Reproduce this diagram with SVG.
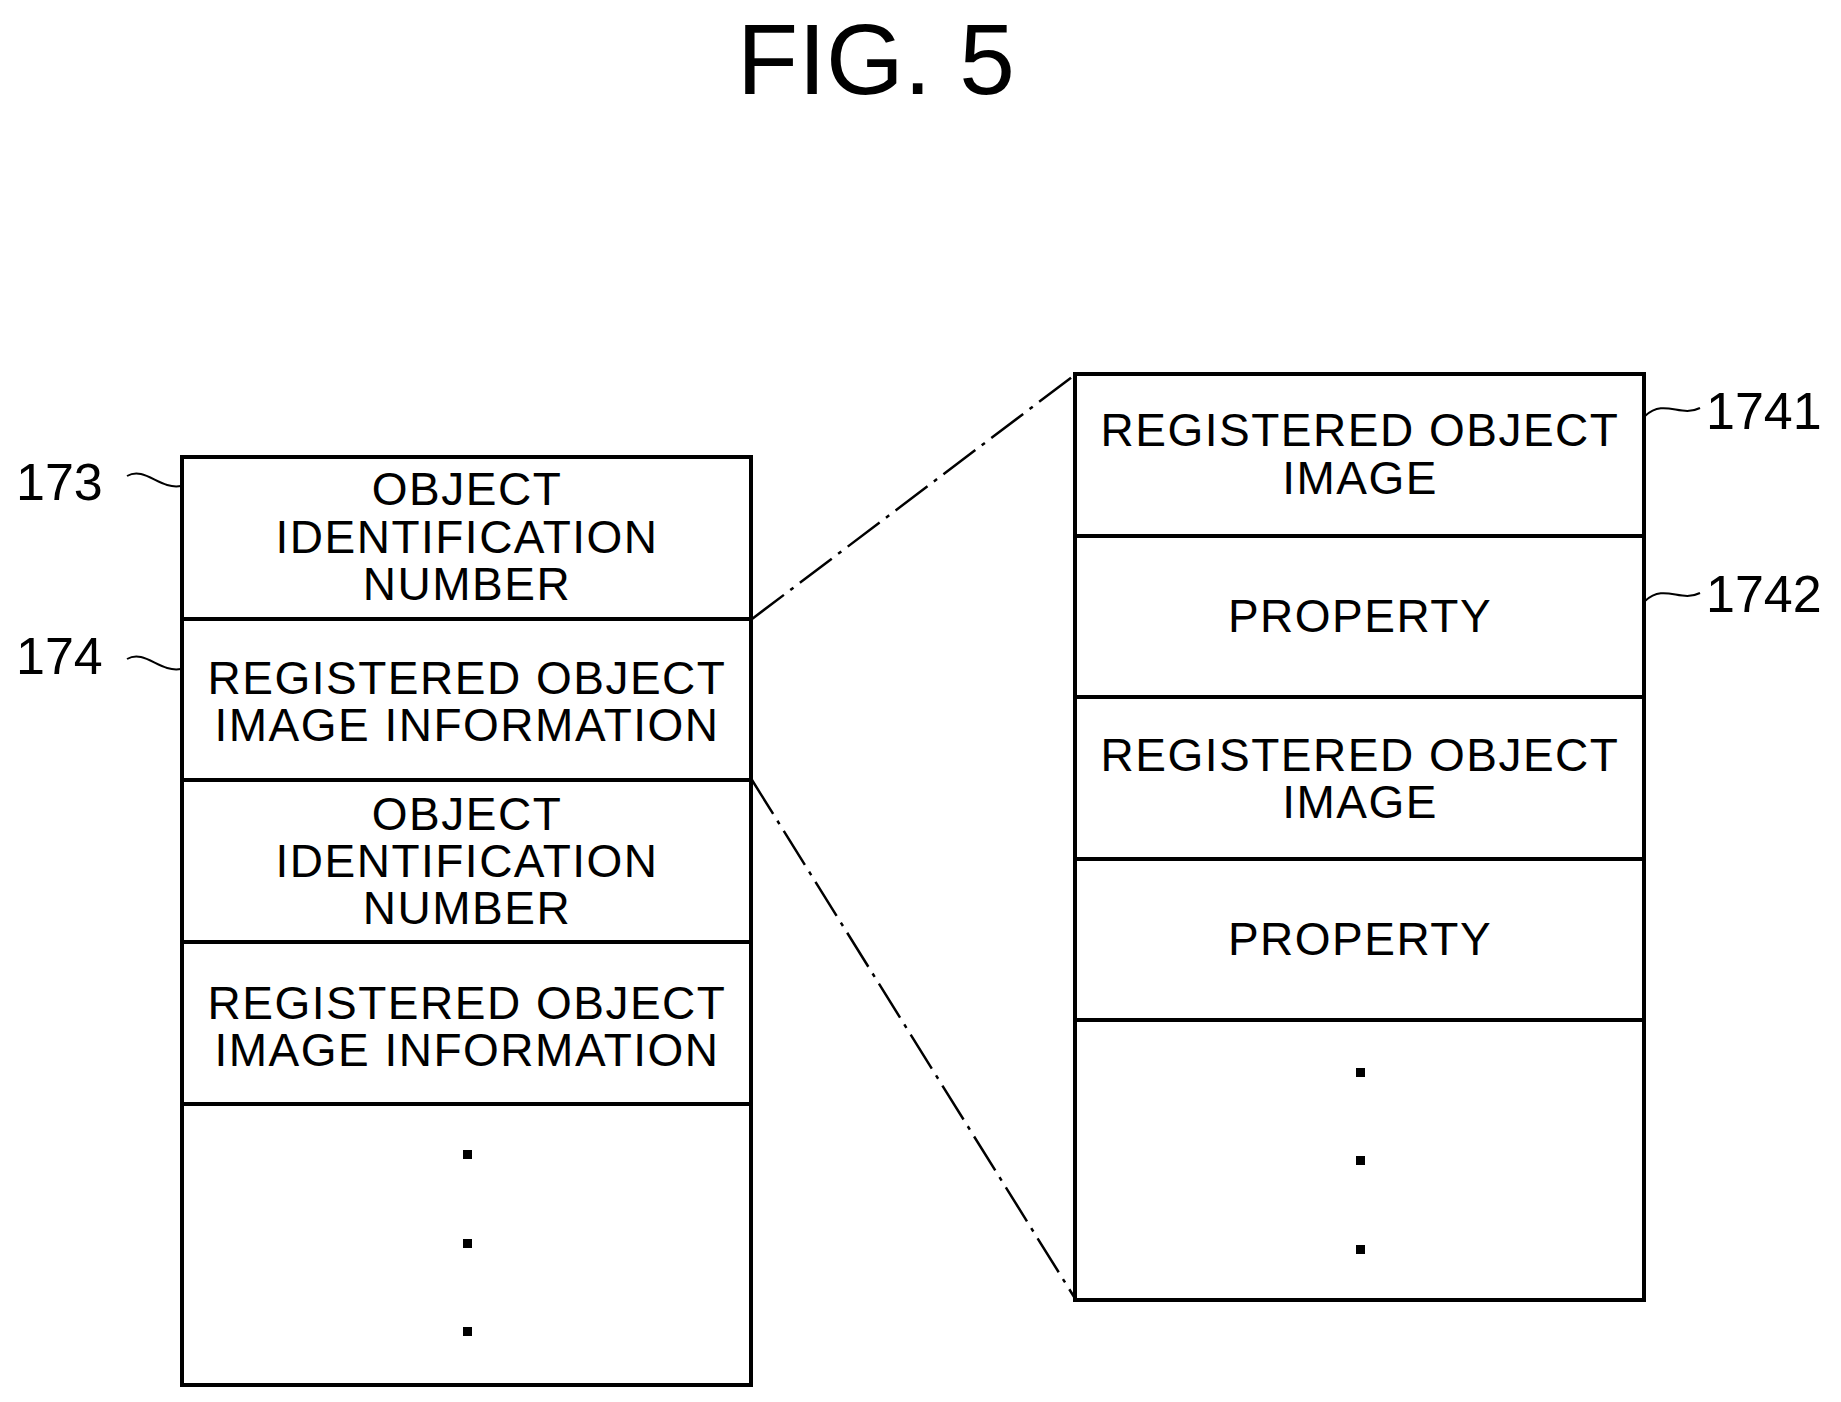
<svg xmlns="http://www.w3.org/2000/svg" width="1841" height="1402" viewBox="0 0 1841 1402">
<style>
.b{fill:#fff;stroke:#000;stroke-width:4}
.t{font-family:"Liberation Sans",Arial,sans-serif;font-size:46px;letter-spacing:1.5px;text-anchor:middle;fill:#000}
.l{font-family:"Liberation Sans",Arial,sans-serif;font-size:52px;fill:#000}
.s{fill:none;stroke:#000;stroke-width:2}
.d{fill:none;stroke:#000;stroke-width:2.5;stroke-dasharray:40 8 4 8}
</style>
<rect width="1841" height="1402" fill="#fff"/>
<text x="876" y="94" font-family="Liberation Sans,Arial,sans-serif" font-size="100" text-anchor="middle">FIG. 5</text>
<g id="connectors">
<line class="d" x1="752" y1="619" x2="1076" y2="374"/>
<line class="d" x1="752" y1="780" x2="1076" y2="1300"/>
<path class="s" d="M127,476 C145,466 160,490 181,486"/>
<path class="s" d="M127,659 C145,649 160,673 181,669"/>
<path class="s" d="M1645,416 C1665,398 1680,418 1700,408"/>
<path class="s" d="M1645,601 C1665,583 1680,603 1700,593"/>
</g>
<g id="left">
<rect class="b" x="182" y="457" width="569" height="928"/>
<line class="b" x1="182" y1="619" x2="751" y2="619"/>
<line class="b" x1="182" y1="780" x2="751" y2="780"/>
<line class="b" x1="182" y1="942" x2="751" y2="942"/>
<line class="b" x1="182" y1="1104" x2="751" y2="1104"/>
<text class="t" x="467" y="505">OBJECT</text><text class="t" x="467" y="553">IDENTIFICATION</text><text class="t" x="467" y="600">NUMBER</text>
<text class="t" x="467" y="694">REGISTERED OBJECT</text><text class="t" x="467" y="741">IMAGE INFORMATION</text>
<text class="t" x="467" y="830">OBJECT</text><text class="t" x="467" y="877">IDENTIFICATION</text><text class="t" x="467" y="924">NUMBER</text>
<text class="t" x="467" y="1019">REGISTERED OBJECT</text><text class="t" x="467" y="1066">IMAGE INFORMATION</text>
<rect x="463" y="1150" width="9" height="9"/><rect x="463" y="1239" width="9" height="9"/><rect x="463" y="1327" width="9" height="9"/>
</g>
<g id="right">
<rect class="b" x="1075" y="374" width="569" height="926"/>
<line class="b" x1="1075" y1="536" x2="1644" y2="536"/>
<line class="b" x1="1075" y1="697" x2="1644" y2="697"/>
<line class="b" x1="1075" y1="859" x2="1644" y2="859"/>
<line class="b" x1="1075" y1="1020" x2="1644" y2="1020"/>
<text class="t" x="1360" y="446">REGISTERED OBJECT</text><text class="t" x="1360" y="494">IMAGE</text>
<text class="t" x="1360" y="632">PROPERTY</text>
<text class="t" x="1360" y="771">REGISTERED OBJECT</text><text class="t" x="1360" y="818">IMAGE</text>
<text class="t" x="1360" y="955">PROPERTY</text>
<rect x="1356" y="1068" width="9" height="9"/><rect x="1356" y="1156" width="9" height="9"/><rect x="1356" y="1245" width="9" height="9"/>
</g>
<g id="labels">
<text class="l" x="16" y="500">173</text>
<text class="l" x="16" y="674">174</text>
<text class="l" x="1706" y="429">1741</text>
<text class="l" x="1706" y="612">1742</text>
</g>
</svg>
